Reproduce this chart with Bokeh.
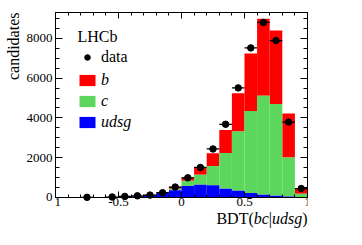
import numpy as np
from bokeh.plotting import figure
from bokeh.models import (Range1d, LinearAxis, SingleIntervalTicker, CustomJSTickFormatter,
                          Label, Legend, LegendItem, Title)
from bokeh.embed import file_html
from bokeh.resources import INLINE

# ---- data ----
bin_edges = [-1.0, -0.9, -0.8, -0.7, -0.6, -0.5, -0.4, -0.3, -0.2, -0.1, 0.0,
             0.1, 0.2, 0.3, 0.4, 0.5, 0.6, 0.7, 0.8, 0.9, 1.0]
udsg_counts = [0, 2, 5, 10, 18, 35, 60, 115, 220, 370, 575,
               640, 610, 440, 340, 220, 140, 90, 50, 20]
c_counts = [0, 0, 1, 2, 3, 5, 10, 15, 40, 75, 265,
            503, 976, 1798, 2979, 4128, 4970, 4610, 1964, 165]
b_counts = [0, 0, 0, 1, 1, 3, 5, 8, 15, 95, 160,
            367, 638, 1157, 1919, 2890, 3876, 3695, 2210, 258]
data_x = [-0.75, -0.55, -0.45, -0.35, -0.25, -0.15, -0.05, 0.05, 0.15, 0.25,
          0.35, 0.45, 0.55, 0.65, 0.75, 0.85, 0.95]
data_y = [8, 25, 55, 85, 120, 240, 525, 990, 1510, 2440,
          3680, 5510, 7520, 8800, 7890, 3790, 450]
x_tick_labels = {-1: "-1", -0.5: "-0.5", 0: "0", 0.5: "0.5", 1: "1"}
y_tick_labels = {0: "0", 2000: "2000", 4000: "4000", 6000: "6000", 8000: "8000"}

FONT = "Liberation Serif"
RED, GREEN, BLUE = "#ff0000", "#5cd65c", "#0000ff"
Y_TOP = 9300
Y_BOTTOM = -1609   # room below zero inside the frame for tick labels and axis title

left = np.array(bin_edges[:-1])
right = np.array(bin_edges[1:])
u = np.array(udsg_counts, dtype=float)
c = np.array(c_counts, dtype=float)
b = np.array(b_counts, dtype=float)

p = figure(width=346, height=229, output_backend="svg", toolbar_location=None,
           x_range=Range1d(-1, 1), y_range=Range1d(Y_BOTTOM, Y_TOP),
           min_border_left=54, min_border_right=39, min_border_top=12, min_border_bottom=0)
p.background_fill_color = "white"
p.border_fill_color = "white"
p.outline_line_color = None
p.xgrid.visible = False
p.ygrid.visible = False

r_b = p.quad(left=left, right=right, bottom=u + c, top=u + c + b, fill_color=RED, line_color=None)
r_c = p.quad(left=left, right=right, bottom=u, top=u + c, fill_color=GREEN, line_color=None)
r_u = p.quad(left=left, right=right, bottom=0, top=u, fill_color=BLUE, line_color=None)

dx = np.array(data_x)
dy = np.array(data_y, dtype=float)
p.segment(x0=dx - 0.05, x1=dx + 0.05, y0=dy, y1=dy, line_color="black", line_width=1.2)
r_d = p.scatter(x=dx, y=dy, size=6.5, fill_color="black", line_color="black")

def style_axis(ax, ticker, labels=None):
    ax.ticker = ticker
    ax.axis_line_color = "black"
    ax.major_tick_line_color = "black"
    ax.minor_tick_line_color = "black"
    ax.major_tick_out = 0
    ax.minor_tick_out = 0
    ax.major_label_text_font = FONT
    ax.major_label_text_font_size = "13px"
    ax.major_label_text_color = "black"
    ax.major_label_standoff = 1
    if labels is not None:
        ax.major_label_overrides = labels
    else:
        ax.formatter = CustomJSTickFormatter(code="return ''")

xax = p.xaxis[0]
style_axis(xax, SingleIntervalTicker(interval=0.5, num_minor_ticks=5), x_tick_labels)
xax.fixed_location = 0
xax.major_tick_in = 6
xax.minor_tick_in = 3

yax = p.yaxis[0]
style_axis(yax, SingleIntervalTicker(interval=2000, num_minor_ticks=4), y_tick_labels)
yax.bounds = (0, Y_TOP)
yax.major_label_standoff = 3
yax.major_tick_in = 7
yax.minor_tick_in = 4

ax_top = LinearAxis()
style_axis(ax_top, SingleIntervalTicker(interval=0.5, num_minor_ticks=5))
ax_top.major_tick_in = 6
ax_top.minor_tick_in = 3
p.add_layout(ax_top, "above")

ax_right = LinearAxis()
style_axis(ax_right, SingleIntervalTicker(interval=2000, num_minor_ticks=4))
ax_right.bounds = (0, Y_TOP)
ax_right.major_tick_in = 7
ax_right.minor_tick_in = 4
p.add_layout(ax_right, "right")

# y axis title at the top end
p.add_layout(Title(text="candidates", align="right", text_font=FONT, text_font_size="16px",
                   text_font_style="normal", text_color="black", standoff=4), "left")

# x axis title (mixed italic), inside the frame below zero
parts = [("BDT(", "normal", 160.9), ("bc", "italic", 198.2), ("|", "normal", 213.3),
         ("udsg", "italic", 216.5), (")", "normal", 246.7)]
for txt, style, xs in parts:
    p.add_layout(Label(x=xs, y=11, x_units="screen", y_units="screen", text=txt,
                       text_font=FONT, text_font_size="16px", text_font_style=style,
                       text_align="left", text_baseline="alphabetic", text_color="black"))

p.add_layout(Label(x=22, y=193, x_units="screen", y_units="screen", text="LHCb",
                   text_font=FONT, text_font_size="16px", text_align="left",
                   text_baseline="alphabetic", text_color="black"))

def style_legend(leg, italic):
    leg.border_line_color = None
    leg.background_fill_alpha = 0
    leg.padding = 0
    leg.margin = 0
    leg.glyph_width = 20
    leg.glyph_height = 14
    leg.label_height = 14
    leg.label_standoff = 4
    leg.spacing = 3
    leg.label_text_font = FONT
    leg.label_text_font_size = "16px"
    leg.label_text_font_style = "italic" if italic else "normal"
    leg.label_text_color = "black"

leg1 = Legend(items=[LegendItem(label="data", renderers=[r_d])], location=(22, 163))
style_legend(leg1, False)
leg2 = Legend(items=[LegendItem(label="b", renderers=[r_b]),
                     LegendItem(label="c", renderers=[r_c]),
                     LegendItem(label="udsg", renderers=[r_u])], location=(22, 98))
style_legend(leg2, True)
p.add_layout(leg1, "center")
p.add_layout(leg2, "center")

open("out.html", "w").write(file_html(p, INLINE))
